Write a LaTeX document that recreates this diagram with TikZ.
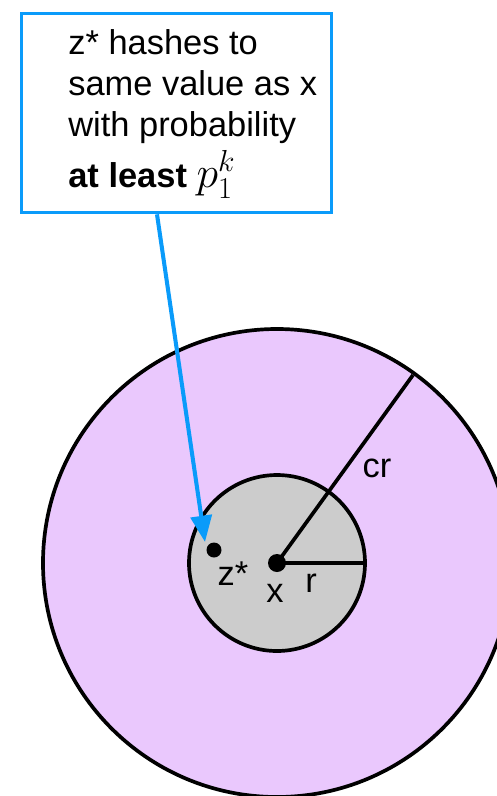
\documentclass[tikz,border=0pt]{standalone}
\usepackage{fontspec}
\setmainfont{Liberation Sans}
\usetikzlibrary{arrows.meta, positioning, calc}
\definecolor{callblue}{HTML}{0A9BFA}
\definecolor{farfill}{HTML}{EAC8FD}
\definecolor{nearfill}{HTML}{CCCCCC}
\newcommand{\bigfont}{\fontsize{19.6}{23.4}\selectfont}
\newcommand{\mathbig}{\fontsize{23}{23}\selectfont}

\begin{document}
\begin{tikzpicture}[x=0.02cm, y=-0.02cm,
    ring/.style={draw=black, line width=2.1pt},
    radius line/.style={draw=black, line width=2.1pt},
    dot/.style={circle, fill=black, inner sep=0pt},
    lbl/.style={font=\bigfont, inner sep=0pt},
    notebox/.style={draw=callblue, line width=1.9pt, fill=white,
      minimum width=310*0.02cm, minimum height=199*0.02cm, inner sep=0pt},
    pointer/.style={draw=callblue, line width=2.3pt,
      -{Triangle[length=15pt, width=12pt]}}]
  \useasboundingbox (0,0) rectangle (497,796);
  \clip (0,0) rectangle (497,796);

  % outer and inner balls
  \fill[farfill] (277,563) circle[radius=234*0.02cm];
  \draw[ring] (277,563) circle[radius=234*0.02cm];
  \filldraw[ring, fill=nearfill] (277,563) circle[radius=88*0.02cm];

  \node[dot, minimum size=18*0.02cm] (x) at (277,563) {};
  \node[dot, minimum size=15*0.02cm] (zstar) at (214,550) {};
  \coordinate (rim) at (365,563);
  \coordinate (far) at (413,375);

  \draw[radius line] (x.center) -- (rim);
  \draw[radius line] (x.center) -- (far);

  \node[lbl] (xlabel) at (275,593) {x};
  \node[lbl] (zlabel) at (233,574) {z*};
  \node[lbl] (rlabel) at (311,583) {r};
  \node[lbl] (crlabel) at (377,468) {cr};

  % call-out
  \node[notebox, anchor=north west] (box) at (20,12) {};
  \node[lbl, anchor=north west, align=left] (note) at (68,29)
    {z* hashes to\\same value as x\\with probability\\[3pt]\textbf{at least} {\mathbig$p_1^k$}};

  \coordinate (tail) at ($(box.south west)+(137,0)$);
  \coordinate (tip) at (205,542);
  \draw[pointer] (tail) -- (tip);
\end{tikzpicture}
\end{document}
